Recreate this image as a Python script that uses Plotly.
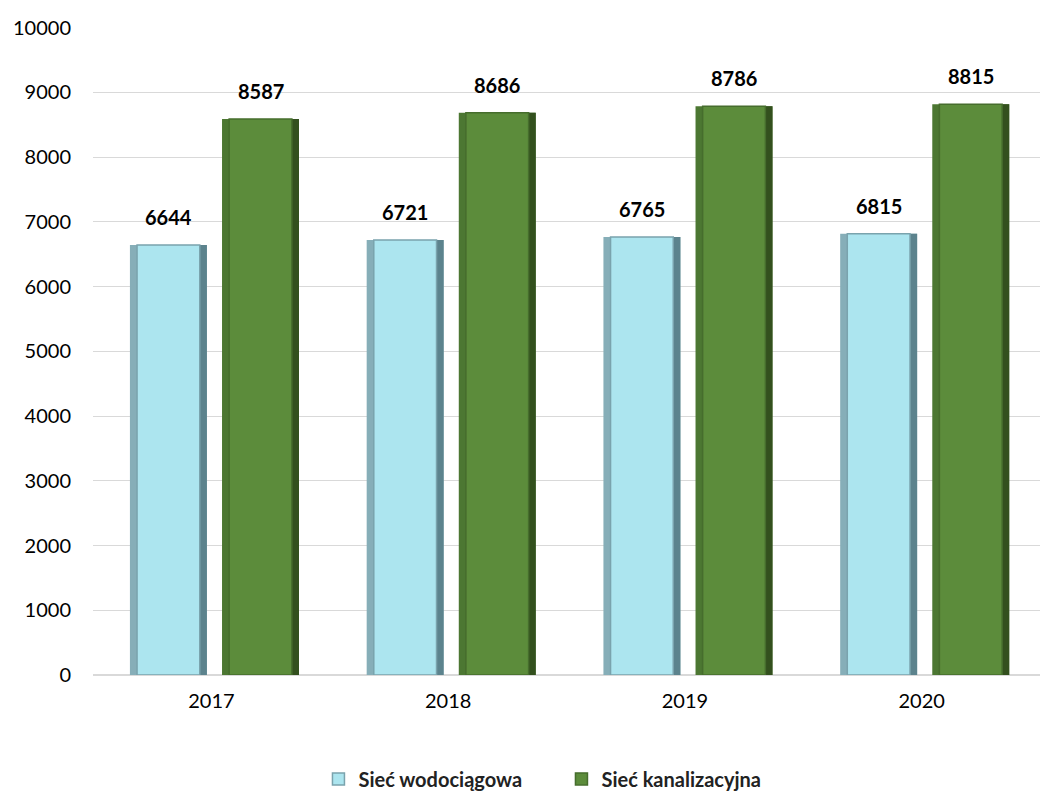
import plotly.graph_objects as go

years = ["2017", "2018", "2019", "2020"]
woda = [6644, 6721, 6765, 6815]
kanal = [8587, 8686, 8786, 8815]
series_names = ["Sieć wodociągowa", "Sieć kanalizacyjna"]
y_ticks = [0, 1000, 2000, 3000, 4000, 5000, 6000, 7000, 8000, 9000, 10000]

# styling (category units)
BAR_W = 0.325
OFFS = [-0.344, 0.045]
INSET = 0.03
styles = [
    dict(left="#86aeb8", right="#5c838d", main="#ace5ef", line="#7aa3ad"),
    dict(left="#4c7732", right="#33501e", main="#5c8c3b", line="#466d2d"),
]

fig = go.Figure()
for vals, name, off, st in zip([woda, kanal], series_names, OFFS, styles):
    fig.add_trace(go.Bar(
        x=years, y=vals, name=name, showlegend=False,
        width=BAR_W, offset=off,
        marker=dict(color=st["left"], line=dict(width=0)),
        hoverinfo="skip",
    ))
    fig.add_trace(go.Bar(
        x=years, y=vals, name=name, showlegend=False,
        width=BAR_W / 2, offset=off + BAR_W / 2,
        marker=dict(color=st["right"], line=dict(width=0)),
        hoverinfo="skip",
    ))
    fig.add_trace(go.Bar(
        x=years, y=vals, name=name, showlegend=True,
        width=BAR_W - 2 * INSET, offset=off + INSET,
        marker=dict(color=st["main"], line=dict(color=st["line"], width=1.5)),
    ))

annotations = []
for vals, off in zip([woda, kanal], OFFS):
    for i, v in enumerate(vals):
        annotations.append(dict(
            x=i + off + BAR_W / 2, y=v, xref="x", yref="y",
            text=f"<b>{v}</b>", showarrow=False, yanchor="bottom", yshift=14,
            font=dict(family="Lato", size=20, color="#000000"),
        ))

fig.update_layout(
    width=1058, height=794,
    margin=dict(l=93, r=18, t=27, b=119),
    paper_bgcolor="white", plot_bgcolor="white",
    barmode="overlay",
    font=dict(family="Lato", size=20, color="#000000"),
    legend=dict(orientation="h", x=0.301, xanchor="left", xref="container",
                y=0.019, yanchor="middle", yref="container",
                font=dict(family="Lato", size=20, color="#222222", weight="bold"),
                entrywidth=198, entrywidthmode="pixels", traceorder="normal"),
    showlegend=True,
    annotations=annotations,
)
fig.update_yaxes(range=[0, 10010], tickvals=y_ticks, tickformat="d", showgrid=True,
                 gridcolor="#d9d9d9", gridwidth=1, zeroline=True,
                 zerolinecolor="#d9d9d9", showline=False, ticks="",
                 ticklabelstandoff=21, automargin=False, tickfont=dict(size=20))
fig.update_xaxes(showline=False, ticks="", tickfont=dict(size=20), ticklabelstandoff=12,
                 automargin=False)

fig.write_html("out.html", config={"displayModeBar": False},
               post_script="document.body.style.margin='0';document.body.style.overflow='hidden';")
